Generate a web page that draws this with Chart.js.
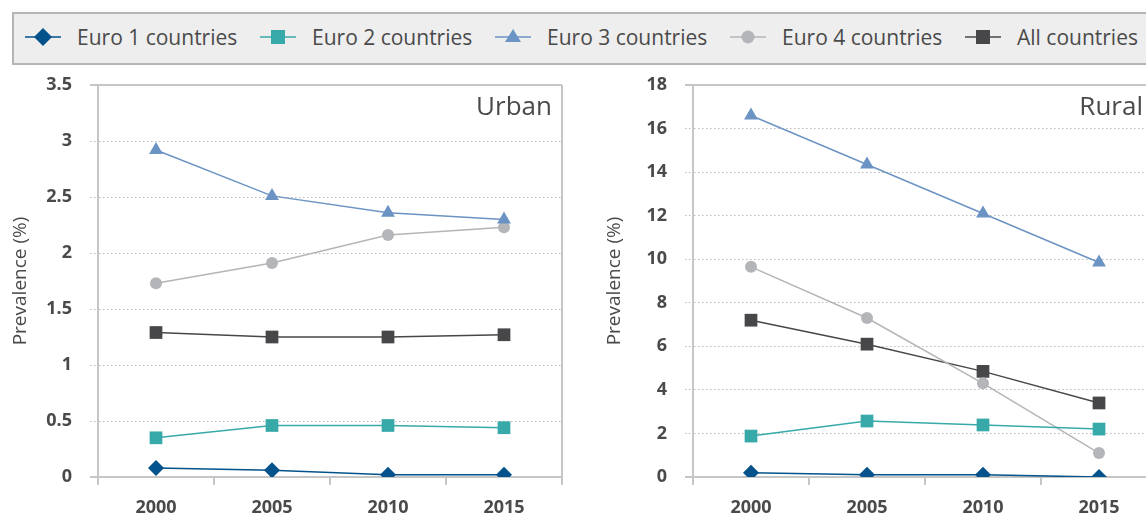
<!DOCTYPE html>
<html>
<head>
<meta charset="utf-8">
<script src="https://cdn.jsdelivr.net/npm/chart.js@4.4.0/dist/chart.umd.min.js"></script>
<style>
  html, body { margin: 0; padding: 0; width: 1146px; height: 517px; overflow: hidden; background: #fff; font-family: 'Open Sans', sans-serif; }
  #legenda { position: absolute; left: 12px; top: 12px; width: 1160px; height: 49px; background: #eeeeee; border: 2px solid #b5b5b5; }
  .item { position: absolute; top: 0; height: 46px; display: flex; align-items: center; font-size: 21px; color: #4a4a4a; white-space: nowrap; }
  .item svg { margin-right: 16px; }
  #urbano { position: absolute; left: 0; top: 70px; }
  #rural { position: absolute; left: 590px; top: 70px; }
</style>
</head>
<body>
<div id="legenda"></div>
<canvas id="urbano" width="580" height="447"></canvas>
<canvas id="rural" width="580" height="447"></canvas>
<script>
const anos = ['2000', '2005', '2010', '2015'];
const nomes = ['Euro 1 countries', 'Euro 2 countries', 'Euro 3 countries', 'Euro 4 countries', 'All countries'];
const cores = ['#03528c', '#38a9a9', '#6b93c3', '#b3b5b8', '#47474a'];
const marcadores = ['rectRot', 'rect', 'triangle', 'circle', 'rect'];
const raios = [8, 9, 8, 6, 9];

// Urbano
const urbanoEuro1 = [0.08, 0.06, 0.02, 0.02];
const urbanoEuro2 = [0.35, 0.46, 0.46, 0.44];
const urbanoEuro3 = [2.92, 2.51, 2.36, 2.30];
const urbanoEuro4 = [1.73, 1.91, 2.16, 2.23];
const urbanoTodos = [1.29, 1.25, 1.25, 1.27];

// Rural
const ruralEuro1 = [0.2, 0.1, 0.1, 0.0];
const ruralEuro2 = [1.88, 2.57, 2.39, 2.2];
const ruralEuro3 = [16.6, 14.35, 12.1, 9.85];
const ruralEuro4 = [9.65, 7.3, 4.3, 1.1];
const ruralTodos = [7.2, 6.1, 4.85, 3.4];

const corTexto = '#4a4a4a';
const corBorda = '#c6c6c6';
const corGrade = '#b9b9b9';

function montarLegenda() {
  const caixa = document.getElementById('legenda');
  const formas = [
    '<polygon points="18,2 27,11 18,20 9,11" />',
    '<rect x="11" y="4" width="14" height="14" />',
    '<polygon points="18,3 26,16 10,16" />',
    '<circle cx="18" cy="11" r="6.5" />',
    '<rect x="11" y="4" width="14" height="14" />',
  ];
  nomes.forEach((nome, i) => {
    const item = document.createElement('div');
    item.className = 'item';
    item.style.left = (11 + i * 235) + 'px';
    item.innerHTML =
      '<svg width="36" height="22" fill="' + cores[i] + '">' +
      '<line x1="0" y1="11" x2="36" y2="11" stroke="' + cores[i] + '" stroke-width="1.5" />' +
      formas[i] + '</svg><span>' + nome + '</span>';
    caixa.appendChild(item);
  });
}

const rotuloPainel = {
  id: 'rotuloPainel',
  afterDraw(chart, args, opts) {
    const { ctx, chartArea } = chart;
    ctx.save();
    ctx.font = '26px "Open Sans"';
    ctx.fillStyle = corTexto;
    ctx.textAlign = 'right';
    ctx.textBaseline = 'alphabetic';
    ctx.fillText(opts.texto, chartArea.right - opts.margem, chartArea.top + 30);
    ctx.restore();
  },
};

function criarGrafico(id, series, maximo, passo, texto, opc) {
  const ehBorda = (ctx) => ctx.tick && (ctx.tick.value === 0 || ctx.tick.value === maximo);
  // @ts-ignore
  new Chart(document.getElementById(id), {
    type: 'line',
    data: {
      labels: anos,
      datasets: series.map((valores, i) => ({
        label: nomes[i],
        data: valores,
        borderColor: cores[i],
        backgroundColor: cores[i],
        borderWidth: 1.5,
        pointStyle: marcadores[i],
        pointRadius: raios[i],
        pointHoverRadius: raios[i],
        pointBorderWidth: 0,
        tension: 0,
      })),
    },
    options: {
      responsive: false,
      animation: false,
      layout: { padding: { top: 15, right: opc.direita, left: 0, bottom: 0 } },
      plugins: {
        legend: { display: false },
        tooltip: { enabled: false },
        rotuloPainel: { texto: texto, margem: opc.margem },
      },
      scales: {
        x: {
          offset: true,
          ticks: { color: corTexto, font: { family: 'Open Sans', size: 18, weight: 'bold' }, padding: 12 },
          grid: {
            offset: true,
            color: (ctx) => (ctx.index === undefined ? corBorda : 'rgba(0,0,0,0)'),
            lineWidth: 2,
            tickColor: corBorda,
            tickWidth: 2,
            tickLength: 8,
          },
          border: { display: true, color: corBorda, width: 2 },
          afterFit: (s) => { s.height = 40; },
        },
        y: {
          min: 0,
          max: maximo,
          ticks: {
            stepSize: passo,
            color: corTexto,
            font: { family: 'Open Sans', size: 18, weight: 'bold' },
            padding: 18,
            callback: (v) => String(v),
          },
          grid: {
            color: (ctx) => (ehBorda(ctx) ? corBorda : corGrade),
            lineWidth: (ctx) => (ehBorda(ctx) ? 2 : 1),
            tickColor: (ctx) => (ehBorda(ctx) ? corBorda : corGrade),
            tickWidth: (ctx) => (ehBorda(ctx) ? 2 : 1),
            tickBorderDash: (ctx) => (ehBorda(ctx) ? [] : [1.5, 2.5]),
            tickLength: 8,
          },
          border: {
            display: true,
            color: corBorda,
            width: 2,
            dash: (ctx) => (ehBorda(ctx) ? [] : [1.5, 2.5]),
          },
          title: {
            display: true,
            text: 'Prevalence (%)',
            color: corTexto,
            font: { family: 'Open Sans', size: 19 },
            padding: { top: opc.titulo, bottom: 0 },
          },
          afterFit: (s) => {
            s.width = opc.largura;
            s.paddingTop = 0;
            s.paddingBottom = 0;
          },
        },
      },
    },
    plugins: [rotuloPainel],
  });
}

function configurar() {
  montarLegenda();
  criarGrafico('urbano', [urbanoEuro1, urbanoEuro2, urbanoEuro3, urbanoEuro4, urbanoTodos], 3.5, 0.5, 'Urban',
    { largura: 98, direita: 18, margem: 10, titulo: 9 });
  criarGrafico('rural', [ruralEuro1, ruralEuro2, ruralEuro3, ruralEuro4, ruralTodos], 18, 2, 'Rural',
    { largura: 103, direita: 13, margem: 14, titulo: 13 });
}

document.addEventListener('DOMContentLoaded', configurar);
</script>
</body>
</html>
